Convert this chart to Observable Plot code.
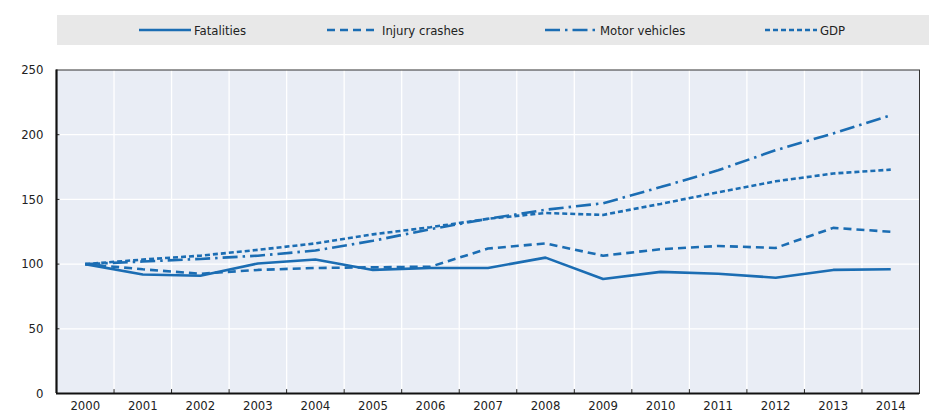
<!DOCTYPE html>
<html>
<head>
<meta charset="utf-8">
<script src="https://cdn.jsdelivr.net/npm/d3@7"></script>
<script src="https://cdn.jsdelivr.net/npm/@observablehq/plot@0.6"></script>
<style>
  html, body { margin: 0; padding: 0; background: #fff; }
  body { width: 929px; height: 420px; overflow: hidden; font-family: "Liberation Sans Narrow", "Arial Narrow", "DejaVu Sans Condensed", sans-serif; }
  #legend { position: relative; height: 55px; }
  #legend .box { position: absolute; left: 57px; top: 15px; width: 872px; height: 30px; background: #e8e8e8; }
  #legend .item { position: absolute; top: 15px; height: 30px; display: flex; align-items: center; font-size: 13px; color: #222; }
  #legend svg { margin-right: 3px; }
</style>
</head>
<body>
<div id="legend"><div class="box"></div></div>
<div id="chart"></div>
<script>
const years = [2000, 2001, 2002, 2003, 2004, 2005, 2006, 2007, 2008, 2009, 2010, 2011, 2012, 2013, 2014];
const fatalities = [100, 92, 91, 100.5, 103.5, 95.5, 97, 97, 105, 88.5, 94, 92.5, 89.5, 95.5, 96];
const injuryCrashes = [100, 96, 92.5, 95.5, 97, 97.5, 98, 112, 116, 106.5, 111.5, 114, 112.5, 128, 125];
const motorVehicles = [100, 102, 104, 106.5, 110.5, 118, 127, 135, 142, 147, 159.5, 172.5, 188, 201, 215];
const gdp = [100, 103.5, 106.5, 111, 116, 123, 128.5, 135, 139.5, 138, 146.5, 155.5, 164, 170, 173];
const seriesNames = ["Fatalities", "Injury crashes", "Motor vehicles", "GDP"];
const seriesValues = [fatalities, injuryCrashes, motorVehicles, gdp];
const dashes = [null, "8,5", "15,5,2.5,5", "5,3"];
const legendX = [139, 327, 545, 765];
const yTicks = [0, 50, 100, 150, 200, 250];
const color = "#1b6db3";

const rows = [];
seriesNames.forEach((name, i) => years.forEach((yr, j) => rows.push({series: name, year: yr, value: seriesValues[i][j]})));
const bounds = d3.range(years[0] - 0.5, years[years.length - 1] + 1, 1);
const innerBounds = bounds.slice(1, -1);

// legend
const legend = document.getElementById("legend");
seriesNames.forEach((name, i) => {
  const d = document.createElement("div");
  d.className = "item";
  d.style.left = legendX[i] + "px";
  const dash = dashes[i] ? `stroke-dasharray="${dashes[i]}"` : "";
  d.innerHTML = `<svg width="52" height="6"><line x1="0" x2="52" y1="3" y2="3" stroke="${color}" stroke-width="2.6" ${dash}/></svg><span>${name}</span>`;
  legend.appendChild(d);
});

const marks = [
  Plot.frame({fill: "#e9edf5"}),
  Plot.ruleX(innerBounds, {stroke: "#fff", strokeWidth: 1.3}),
  Plot.ruleY(yTicks.slice(1, -1), {stroke: "#fff", strokeWidth: 1.3}),
  Plot.frame({stroke: "#333", strokeWidth: 1}),
  Plot.ruleX(innerBounds, {y1: 0, y2: 3, stroke: "#222", strokeWidth: 1}),
  Plot.ruleY(yTicks.slice(1, -1), {x1: bounds[0], x2: bounds[0] + 0.06, stroke: "#222", strokeWidth: 1}),
  Plot.ruleX([bounds[0]], {stroke: "#111", strokeWidth: 2.2}),
  Plot.ruleY([0], {stroke: "#111", strokeWidth: 2.2}),
];
seriesNames.forEach((name, i) => {
  marks.push(Plot.line(rows.filter(r => r.series === name), {
    x: "year", y: "value", stroke: color, strokeWidth: 2.6,
    strokeDasharray: dashes[i] || undefined, strokeLinejoin: "miter", strokeLinecap: "butt"
  }));
});

const chart = Plot.plot({
  width: 929,
  height: 365,
  marginTop: 14.5,
  marginBottom: 27,
  marginLeft: 56,
  marginRight: 10,
  style: {fontFamily: '"Liberation Sans Narrow", "Arial Narrow", "DejaVu Sans Condensed", sans-serif', fontSize: "13px", color: "#222", background: "transparent"},
  x: {domain: [bounds[0], bounds[bounds.length - 1]], ticks: years, tickFormat: d => String(d), tickSize: 0, tickPadding: 7, label: null},
  y: {domain: [0, 250], ticks: yTicks, tickSize: 0, tickPadding: 13, label: null},
  marks
});
document.getElementById("chart").appendChild(chart);
</script>
</body>
</html>
